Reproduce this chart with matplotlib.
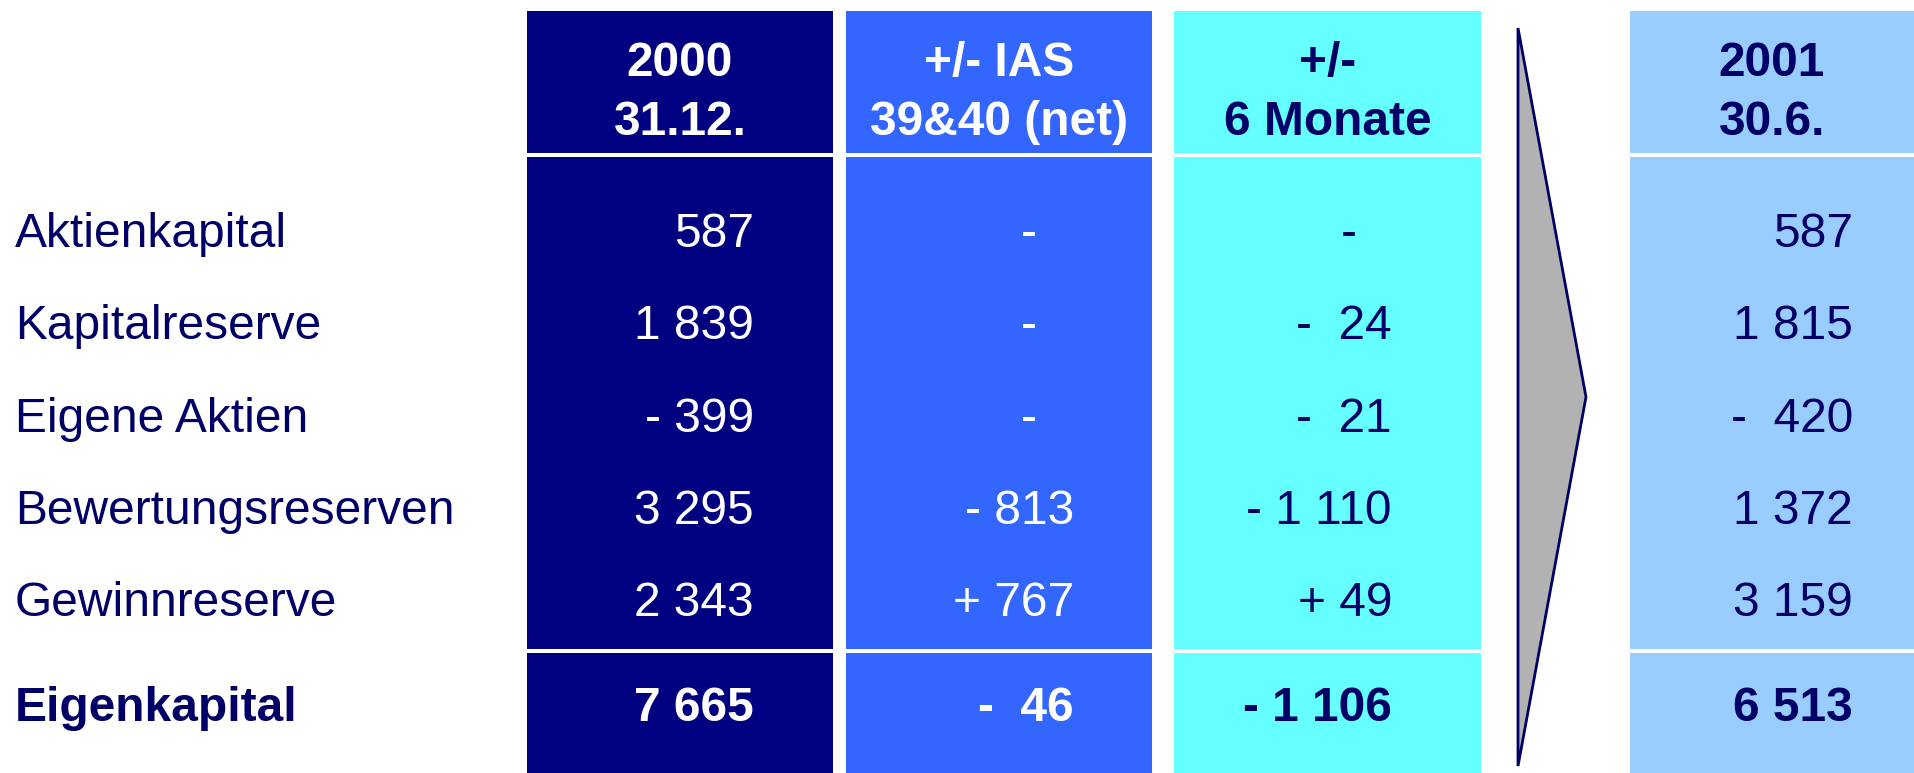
import matplotlib
matplotlib.use('Agg')
import matplotlib.pyplot as plt
from matplotlib.patches import Rectangle, Polygon

plt.rcParams['font.family'] = ['Liberation Sans', 'DejaVu Sans']

# table contents
rows = ['Aktienkapital', 'Kapitalreserve', 'Eigene Aktien',
        'Bewertungsreserven', 'Gewinnreserve', 'Eigenkapital']
headers = [['2000', '31.12.'], ['+/- IAS', '39&40 (net)'],
           ['+/-', '6 Monate'], ['2001', '30.6.']]
col_2000 = ['587', '1 839', '- 399', '3 295', '2 343', '7 665']
col_ias = ['-', '-', '-', '- 813', '+ 767', '-  46']
col_6m = ['-', '-  24', '-  21', '- 1 110', '+ 49', '- 1 106']
col_2001 = ['587', '1 815', '-  420', '1 372', '3 159', '6 513']
columns = [col_2000, col_ias, col_6m, col_2001]

navy = '#000066'
box_colors = ['#000080', '#3366FF', '#66FFFF', '#99CCFF']
text_colors = ['white', 'white', navy, navy]
# x extents of the boxes, right edge of numbers, x of a lone dash
box_x = [(527, 833), (846, 1152), (1174, 1481), (1630, 1914)]
num_right = [754, 1074, 1392, 1853]
dash_x = [None, 1029, 1349, None]
row_base = [247, 339, 432, 524, 616, 721]
fs = 34.5

fig = plt.figure(figsize=(19.14, 7.73), dpi=100)
ax = fig.add_axes([0, 0, 1, 1])
ax.set_xlim(0, 1914)
ax.set_ylim(773, 0)
ax.axis('off')

for i, (x0, x1) in enumerate(box_x):
    ax.add_patch(Rectangle((x0, 11), x1 - x0, 773 - 11, color=box_colors[i], lw=0))
    # white separator lines under header and above total
    ax.add_patch(Rectangle((x0, 153), x1 - x0, 4, color='white', lw=0))
    ax.add_patch(Rectangle((x0, 649), x1 - x0, 4, color='white', lw=0))
    xc = (x0 + x1) / 2
    ax.text(xc, 76, headers[i][0], ha='center', va='baseline', fontsize=fs,
            fontweight='bold', color=text_colors[i])
    ax.text(xc, 135, headers[i][1], ha='center', va='baseline', fontsize=fs,
            fontweight='bold', color=text_colors[i])
    for r, val in enumerate(columns[i]):
        bold = 'bold' if r == len(rows) - 1 else 'normal'
        if val == '-' and dash_x[i] is not None:
            ax.text(dash_x[i], row_base[r], val, ha='center', va='baseline',
                    fontsize=fs, color=text_colors[i], fontweight=bold)
        else:
            ax.text(num_right[i], row_base[r], val, ha='right', va='baseline',
                    fontsize=fs, color=text_colors[i], fontweight=bold)

for r, name in enumerate(rows):
    bold = 'bold' if r == len(rows) - 1 else 'normal'
    ax.text(15, row_base[r], name, ha='left', va='baseline', fontsize=fs,
            color=navy, fontweight=bold)

# arrow between the change columns and the result
ax.add_patch(Polygon([(1518, 28), (1586, 397), (1518, 766)], closed=True,
                     facecolor='#B2B2B2', edgecolor=navy, lw=2))

fig.savefig('out.png', dpi=100)
